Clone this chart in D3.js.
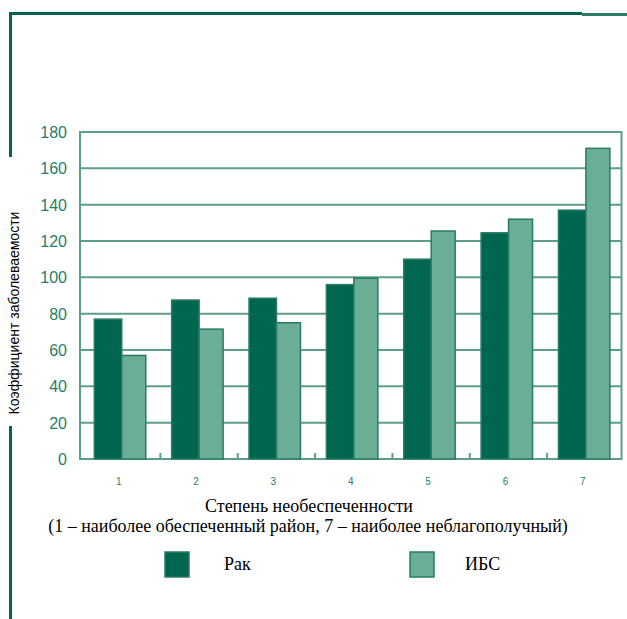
<!DOCTYPE html>
<html>
<head>
<meta charset="utf-8">
<script src="https://cdn.jsdelivr.net/npm/d3@7"></script>
<style>
  body { margin: 0; background: #fff; }
  svg { display: block; }
  .serif { font-family: 'Liberation Serif', 'DejaVu Serif', serif; }
  .sans { font-family: 'Liberation Sans', 'DejaVu Sans', sans-serif; }
</style>
</head>
<body>
<svg id="chart"></svg>
<script>
// data
const categories = ["1", "2", "3", "4", "5", "6", "7"];
const cancer = [77, 87.5, 88.5, 96, 110, 124.5, 137];   // Рак
const ihd = [57, 71.5, 75, 99.5, 125.5, 132, 171];      // ИБС
const yTicks = [0, 20, 40, 60, 80, 100, 120, 140, 160, 180];
const seriesNames = ["Рак", "ИБС"];
const xTitle = "Степень необеспеченности";
const xSubtitle = "(1 – наиболее обеспеченный район, 7 – наиболее неблагополучный)";
const yTitle = "Коэффициент заболеваемости";

const W = 627, H = 619;
const plot = { left: 80, right: 621.5, top: 132, bottom: 459 };
const darkFill = "#00664f", lightFill = "#6aae96", edge = "#2a7b66", grid = "#5c9f89";

const svg = d3.select("#chart").attr("width", W).attr("height", H);

// outer frame: top line and left line (broken behind the y title)
svg.append("line").attr("x1", 9).attr("x2", 582).attr("y1", 13.5).attr("y2", 13.5)
  .attr("stroke", darkFill).attr("stroke-width", 3);
svg.append("line").attr("x1", 582).attr("x2", 627).attr("y1", 14.5).attr("y2", 14.5)
  .attr("stroke", "#2f7d69").attr("stroke-width", 3);
svg.append("line").attr("x1", 10.5).attr("x2", 10.5).attr("y1", 12).attr("y2", 157)
  .attr("stroke", darkFill).attr("stroke-width", 3);
svg.append("line").attr("x1", 10.5).attr("x2", 10.5).attr("y1", 426).attr("y2", H)
  .attr("stroke", darkFill).attr("stroke-width", 3);

const x = d3.scaleBand().domain(categories).range([plot.left, plot.right]);
const y = d3.scaleLinear().domain([0, 180]).range([plot.bottom, plot.top]);

// gridlines
svg.append("g").selectAll("line").data(yTicks).join("line")
  .attr("x1", plot.left).attr("x2", plot.right)
  .attr("y1", d => y(d)).attr("y2", d => y(d))
  .attr("stroke", grid).attr("stroke-width", 2);

// plot frame
svg.append("rect")
  .attr("x", plot.left).attr("y", plot.top)
  .attr("width", plot.right - plot.left).attr("height", plot.bottom - plot.top)
  .attr("fill", "none").attr("stroke", grid).attr("stroke-width", 2);

// small ticks between groups on the baseline
svg.append("g").selectAll("line").data(categories.slice(1)).join("line")
  .attr("x1", d => x(d) + 3).attr("x2", d => x(d) + 3)
  .attr("y1", plot.bottom).attr("y2", plot.bottom - 6)
  .attr("stroke", grid).attr("stroke-width", 2);

const bw = x.bandwidth();
const darkOff = bw * 0.185, darkW = bw * 0.355, lightW = bw * 0.31;

svg.append("g").selectAll("rect").data(cancer).join("rect")
  .attr("x", (d, i) => x(categories[i]) + darkOff)
  .attr("y", d => y(d))
  .attr("width", darkW)
  .attr("height", d => y(0) - y(d))
  .attr("fill", darkFill).attr("stroke", edge).attr("stroke-width", 1.5);

svg.append("g").selectAll("rect").data(ihd).join("rect")
  .attr("x", (d, i) => x(categories[i]) + darkOff + darkW)
  .attr("y", d => y(d))
  .attr("width", lightW)
  .attr("height", d => y(0) - y(d))
  .attr("fill", lightFill).attr("stroke", edge).attr("stroke-width", 1.5);

// y tick labels
svg.append("g").selectAll("text").data(yTicks).join("text")
  .attr("class", "sans")
  .attr("x", 67).attr("y", d => y(d) + 6)
  .attr("text-anchor", "end")
  .attr("font-size", 16)
  .attr("fill", "#1f7f66")
  .text(d => d);

// x tick labels
svg.append("g").selectAll("text").data(categories).join("text")
  .attr("class", "sans")
  .attr("x", d => x(d) + bw / 2).attr("y", 485)
  .attr("text-anchor", "middle")
  .attr("font-size", 10)
  .attr("fill", "#1f7f66")
  .text(d => d);

// axis titles
svg.append("text").attr("class", "serif")
  .attr("x", 309).attr("y", 512)
  .attr("text-anchor", "middle")
  .attr("font-size", 18)
  .text(xTitle);
svg.append("text").attr("class", "serif")
  .attr("x", 308).attr("y", 532)
  .attr("text-anchor", "middle")
  .attr("font-size", 18)
  .text(xSubtitle);

svg.append("text").attr("class", "sans")
  .attr("transform", "translate(19,313) rotate(-90)")
  .attr("text-anchor", "middle")
  .attr("font-size", 14)
  .text(yTitle);

// legend
const legendX = [165, 410];
const legend = svg.append("g").selectAll("g").data(seriesNames).join("g")
  .attr("transform", (d, i) => `translate(${legendX[i]},552)`);
legend.append("rect")
  .attr("width", 24).attr("height", 25)
  .attr("fill", (d, i) => i === 0 ? darkFill : lightFill)
  .attr("stroke", edge).attr("stroke-width", 1.5);
legend.append("text").attr("class", "serif")
  .attr("x", (d, i) => i === 0 ? 59 : 55).attr("y", 18)
  .attr("font-size", 18)
  .text(d => d);
</script>
</body>
</html>
